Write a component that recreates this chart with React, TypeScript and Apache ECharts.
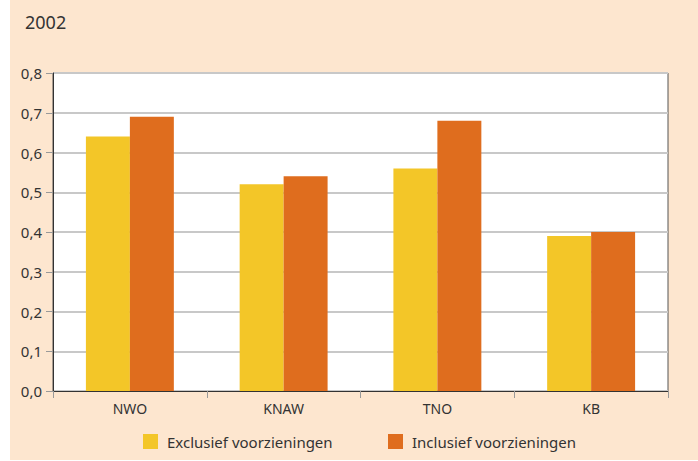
import React, { useEffect, useRef } from "react";
import * as echarts from "echarts";

const categories = ["NWO", "KNAW", "TNO", "KB"];
const exclusief = [0.64, 0.52, 0.56, 0.39];
const inclusief = [0.69, 0.54, 0.68, 0.4];
const seriesNames = ["Exclusief voorzieningen", "Inclusief voorzieningen"];
const title = "2002";

const FONT = "'Noto Sans', 'DejaVu Sans', sans-serif";

export default function App() {
  const ref = useRef<HTMLDivElement>(null);
  useEffect(() => {
    if (!ref.current) return;
    const chart = echarts.init(ref.current, null, { renderer: "svg" });
    const legendBase = {
      top: 434,
      padding: 0,
      itemWidth: 15,
      itemHeight: 15,
      icon: "rect",
      textStyle: { fontSize: 15, color: "#333333", fontFamily: FONT, padding: [0, 0, 0, 4] },
    };
    chart.setOption({
      animation: false,
      backgroundColor: "#ffffff",
      textStyle: { fontFamily: FONT },
      graphic: [
        {
          type: "rect",
          z: -10,
          shape: { x: 10, y: 0, width: 688, height: 460 },
          style: { fill: "#fde6cf" },
        },
        {
          type: "text",
          x: 25,
          y: 22,
          style: {
            text: title,
            fontSize: 18,
            fill: "#333333",
            fontFamily: FONT,
            verticalAlign: "middle",
          },
        },
      ],
      grid: {
        left: 53,
        top: 73,
        width: 615,
        height: 318,
        show: true,
        backgroundColor: "#ffffff",
        borderColor: "#555555",
        borderWidth: 1,
      },
      legend: [
        { ...legendBase, left: 143, data: [seriesNames[0]] },
        { ...legendBase, left: 388, data: [seriesNames[1]] },
      ],
      xAxis: {
        type: "category",
        data: categories,
        axisLine: { lineStyle: { color: "#333333", width: 1 } },
        axisTick: { show: true, length: 7, lineStyle: { color: "#999999" } },
        axisLabel: { fontSize: 14, color: "#333333", margin: 10, fontFamily: FONT },
      },
      yAxis: {
        type: "value",
        min: 0,
        max: 0.8,
        interval: 0.1,
        axisLine: { show: true, lineStyle: { color: "#333333", width: 1 } },
        axisTick: { show: true, length: 7, lineStyle: { color: "#999999" } },
        splitLine: { lineStyle: { color: "#c8c8c8", width: 2 } },
        axisLabel: {
          fontSize: 15,
          color: "#333333",
          margin: 11,
          fontFamily: FONT,
          formatter: (v: number) => v.toFixed(1).replace(".", ","),
        },
      },
      series: [
        {
          name: seriesNames[0],
          type: "bar",
          data: exclusief,
          itemStyle: { color: "#f3c628" },
          barGap: "0%",
          barCategoryGap: "42.8%",
        },
        {
          name: seriesNames[1],
          type: "bar",
          data: inclusief,
          itemStyle: { color: "#df6d1e" },
          barGap: "0%",
          barCategoryGap: "42.8%",
        },
      ],
    });
    return () => chart.dispose();
  }, []);
  return (
    <div
      ref={ref}
      style={{ position: "fixed", left: 0, top: 0, width: 698, height: 461 }}
    />
  );
}
